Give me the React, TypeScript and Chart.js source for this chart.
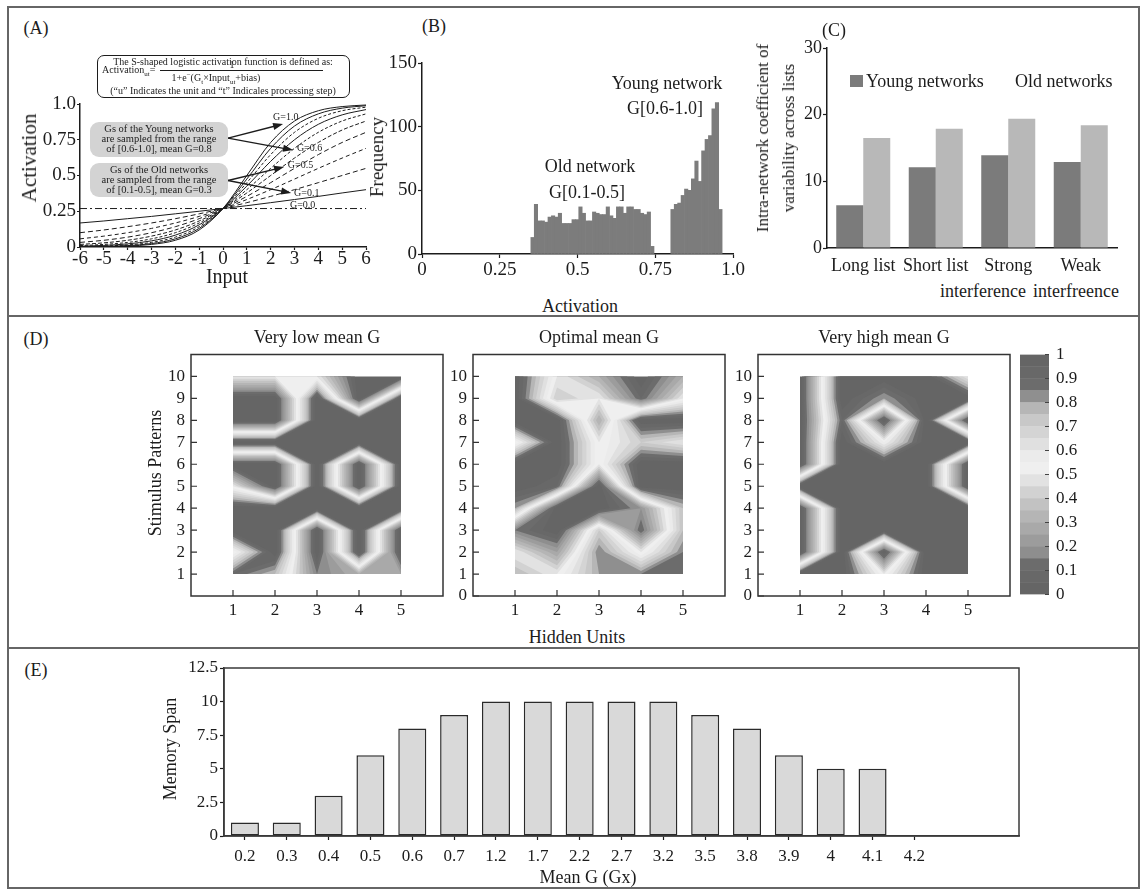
import React, { useEffect, useRef } from 'react';
import { Chart, registerables } from 'chart.js';

Chart.register(...registerables);

const FONT = '"Liberation Serif", "Times New Roman", Times, serif';
const INK = '#1c1c1c';

// ---------------- Panel A : logistic activation curves ----------------
const aInputs = [-6, -5, -4, -3, -2, -1, 0, 1, 2, 3, 4, 5, 6];
const aGainNames = ['G=0.0', 'G=0.1', 'G=0.2', 'G=0.3', 'G=0.4', 'G=0.5', 'G=0.6', 'G=0.7', 'G=0.8', 'G=0.9', 'G=1.0'];
const aG00 = [0.269, 0.269, 0.269, 0.269, 0.269, 0.269, 0.269, 0.269, 0.269, 0.269, 0.269, 0.269, 0.269];
const aG01 = [0.168, 0.182, 0.198, 0.214, 0.232, 0.25, 0.269, 0.289, 0.31, 0.332, 0.354, 0.378, 0.401];
const aG02 = [0.1, 0.119, 0.142, 0.168, 0.198, 0.232, 0.269, 0.31, 0.354, 0.401, 0.45, 0.5, 0.55];
const aG03 = [0.057, 0.076, 0.1, 0.13, 0.168, 0.214, 0.269, 0.332, 0.401, 0.475, 0.55, 0.622, 0.69];
const aG04 = [0.032, 0.047, 0.069, 0.1, 0.142, 0.198, 0.269, 0.354, 0.45, 0.55, 0.646, 0.731, 0.802];
const aG05 = [0.018, 0.029, 0.047, 0.076, 0.119, 0.182, 0.269, 0.378, 0.5, 0.622, 0.731, 0.818, 0.881];
const aG06 = [0.01, 0.018, 0.032, 0.057, 0.1, 0.168, 0.269, 0.401, 0.55, 0.69, 0.802, 0.881, 0.931];
const aG07 = [0.006, 0.011, 0.022, 0.043, 0.083, 0.155, 0.269, 0.426, 0.599, 0.75, 0.858, 0.924, 0.961];
const aG08 = [0.003, 0.007, 0.015, 0.032, 0.069, 0.142, 0.269, 0.45, 0.646, 0.802, 0.9, 0.953, 0.978];
const aG09 = [0.002, 0.004, 0.01, 0.024, 0.057, 0.13, 0.269, 0.475, 0.69, 0.846, 0.931, 0.971, 0.988];
const aG10 = [0.001, 0.002, 0.007, 0.018, 0.047, 0.119, 0.269, 0.5, 0.731, 0.881, 0.953, 0.982, 0.993];
const aYTickLabels = ['0', '0.25', '0.5', '0.75', '1.0'];
const aCurveLabels = [
  { text: 'G=1.0', x: 2.1, y: 0.905 },
  { text: 'G=0.6', x: 3.1, y: 0.69 },
  { text: 'G=0.5', x: 2.72, y: 0.573 },
  { text: 'G=0.1', x: 2.98, y: 0.378 },
  { text: 'G=0.0', x: 2.81, y: 0.294 },
];
const aArrows = [
  { from: [0.21, 0.762], to: [2.52, 0.86] },
  { from: [0.21, 0.762], to: [2.94, 0.678] },
  { from: [0.21, 0.465], to: [2.56, 0.56] },
  { from: [0.21, 0.465], to: [2.86, 0.378] },
];

// ---------------- Panel B : activation histogram ----------------
const bBinWidth = 0.011;
const bOldStart = 0.35;
const bOldFreq = [13, 39, 26, 26, 25, 29, 30, 29, 32, 24, 24, 24, 27, 27, 37, 32, 26, 26, 33, 32, 31, 31, 37, 30, 28, 37, 37, 32, 37, 37, 35, 35, 32, 31, 33, 6];
const bYoungStart = 0.8;
const bYoungFreq = [35, 39, 40, 46, 51, 50, 59, 73, 57, 81, 90, 93, 114, 119, 35];
const bXTickLabels = ['0', '0.25', '0.5', '0.75', '1.0'];

// ---------------- Panel C : coefficient of variability ----------------
const cCategories = ['Long list', 'Short list', 'Strong', 'Weak'];
const cYoung = [6.4, 12.1, 13.9, 12.9];
const cOld = [16.5, 17.9, 19.4, 18.4];

// ---------------- Panel D : contour maps (rows: pattern 10 -> 1, cols: unit 1 -> 5) ----------------
const dUnits = [1, 2, 3, 4, 5];
const dPatternTicks = [0, 1, 2, 3, 4, 5, 6, 7, 8, 9, 10];
const dPatternTicksLow = [1, 2, 3, 4, 5, 6, 7, 8, 9, 10];
const dLowGrid = [
  [0.5, 0.5, 0.5, 0, 0],
  [0, 0, 1, 0, 1],
  [0, 0, 1, 1, 1],
  [1, 1, 1, 1, 1],
  [0, 0, 1, 0, 1],
  [0.5, 0, 1, 0, 1],
  [1, 1, 1, 1, 1],
  [1, 1, 0, 1, 0],
  [0.5, 1, 0, 1, 0],
  [0.9, 0.75, 0.15, 0.3, 0.25],
];
const dOptimalGrid = [
  [1, 0.5, 0.3, 0, 0.3],
  [1, 0.4, 0.5, 0.1, 0.5],
  [1, 1, 0.3, 1, 1],
  [0.5, 1, 0.5, 0.7, 0.6],
  [1, 1, 0.5, 1, 1],
  [1, 0.9, 0, 1, 1],
  [0.8, 0, 0, 0.2, 0.75],
  [0.15, 0, 0.7, 0.1, 0.75],
  [0.5, 0.25, 0.85, 0.5, 0.85],
  [0.35, 0.5, 0.8, 0.85, 0.85],
];
const dHighGrid = [
  [0, 1, 1, 1, 0.6],
  [0, 1, 0.8, 1, 1],
  [0, 0.9, 0, 1, 0],
  [0, 1, 0.55, 1, 1],
  [0, 1, 1, 1, 0],
  [1, 1, 1, 1, 0],
  [0, 1, 1, 1, 1],
  [0, 1, 1, 1, 1],
  [0, 1, 0, 1, 1],
  [1, 1, 0.5, 1, 1],
];
const dLevelStep = 0.05;
const dColorbarLabels = ['0', '0.1', '0.2', '0.3', '0.4', '0.5', '0.6', '0.7', '0.8', '0.9', '1'];
const dBandColors = [
  '#656565', '#686868', '#6c6c6c', '#8e8e8e', '#9c9c9c', '#a9a9a9', '#b5b5b5', '#c2c2c2', '#d2d2d2', '#e2e2e2',
  '#efefef', '#ebebeb', '#e0e0e0', '#d4d4d4', '#c8c8c8', '#b6b6b6', '#8f8f8f', '#6c6c6c', '#686868', '#656565',
];

// ---------------- Panel E : memory span ----------------
const eMeanG = ['0.2', '0.3', '0.4', '0.5', '0.6', '0.7', '1.2', '1.7', '2.2', '2.7', '3.2', '3.5', '3.8', '3.9', '4', '4.1', '4.2'];
const eSpan = [1, 1, 3, 6, 8, 9, 10, 10, 10, 10, 10, 9, 8, 6, 5, 5, null];

// ---------------- helpers ----------------
const tickFont = (size: number) => ({ family: FONT, size, lineHeight: 1 });
const fixSize = (px: number) => (s: any) => {
  if (s.isHorizontal()) s.height = px;
  else s.width = px;
};
const baseOptions = (padding: any) => ({
  responsive: false,
  animation: false,
  events: [],
  layout: { padding },
  plugins: { legend: { display: false }, tooltip: { enabled: false } },
});

function ChartCanvas({ x, y, w, h, config }: { x: number; y: number; w: number; h: number; config: () => any }) {
  const ref = useRef<HTMLCanvasElement>(null);
  useEffect(() => {
    const chart = new Chart(ref.current as HTMLCanvasElement, config());
    return () => chart.destroy();
  }, []);
  return <canvas ref={ref} width={w} height={h} style={{ position: 'absolute', left: x, top: y, width: w, height: h }} />;
}

function Txt(props: { x: number; y: number; size?: number; rotate?: boolean; left?: boolean; lh?: number; children: React.ReactNode }) {
  const { x, y, size = 18, rotate = false, left = false, lh = 1.15, children } = props;
  let transform = left ? 'translate(0,-50%)' : 'translate(-50%,-50%)';
  if (rotate) transform += ' rotate(-90deg)';
  return (
    <div
      style={{
        position: 'absolute', left: x, top: y, transform, fontFamily: FONT, fontSize: size, lineHeight: lh,
        color: INK, whiteSpace: 'nowrap', textAlign: 'center',
      }}
    >
      {children}
    </div>
  );
}

// ---------------- plugins ----------------
const annotA = {
  id: 'annotA',
  afterDatasetsDraw(chart: any) {
    const { ctx, scales } = chart;
    const xs = scales.x, ys = scales.y;
    ctx.save();
    ctx.strokeStyle = INK;
    ctx.fillStyle = INK;
    ctx.lineWidth = 1.3;
    aArrows.forEach((a) => {
      const x0 = xs.getPixelForValue(a.from[0]), y0 = ys.getPixelForValue(a.from[1]);
      const x1 = xs.getPixelForValue(a.to[0]), y1 = ys.getPixelForValue(a.to[1]);
      const ang = Math.atan2(y1 - y0, x1 - x0);
      const c = Math.cos(ang), s = Math.sin(ang);
      ctx.beginPath();
      ctx.moveTo(x0, y0);
      ctx.lineTo(x1 - 7 * c, y1 - 7 * s);
      ctx.stroke();
      ctx.beginPath();
      ctx.moveTo(x1, y1);
      ctx.lineTo(x1 - 10 * c + 3.6 * s, y1 - 10 * s - 3.6 * c);
      ctx.lineTo(x1 - 10 * c - 3.6 * s, y1 - 10 * s + 3.6 * c);
      ctx.closePath();
      ctx.fill();
    });
    ctx.font = `10px ${FONT}`;
    ctx.textBaseline = 'middle';
    ctx.textAlign = 'left';
    aCurveLabels.forEach((l) => ctx.fillText(l.text, xs.getPixelForValue(l.x), ys.getPixelForValue(l.y)));
    ctx.restore();
  },
};

function contourPlugin(grid: number[][]) {
  const val = (u: number, p: number) => grid[10 - p][u - 1];
  return {
    id: 'contour',
    beforeDatasetsDraw(chart: any) {
      const { ctx, scales } = chart;
      const xs = scales.x, ys = scales.y;
      ctx.save();
      for (let k = 0; k < dBandColors.length; k++) {
        const level = k * dLevelStep;
        ctx.beginPath();
        for (let u = 1; u < 5; u++) {
          for (let p = 1; p < 10; p++) {
            const corners = [[u, p], [u + 1, p], [u + 1, p + 1], [u, p + 1]].map(([a, b]) => ({
              px: xs.getPixelForValue(a), py: ys.getPixelForValue(b), v: val(a, b),
            }));
            const poly: number[][] = [];
            for (let m = 0; m < 4; m++) {
              const A = corners[m], B = corners[(m + 1) % 4];
              const inA = A.v >= level - 1e-9, inB = B.v >= level - 1e-9;
              if (inA) poly.push([A.px, A.py]);
              if (inA !== inB) {
                const t = (level - A.v) / (B.v - A.v);
                poly.push([A.px + t * (B.px - A.px), A.py + t * (B.py - A.py)]);
              }
            }
            if (poly.length >= 3) {
              ctx.moveTo(poly[0][0], poly[0][1]);
              for (let q = 1; q < poly.length; q++) ctx.lineTo(poly[q][0], poly[q][1]);
              ctx.closePath();
            }
          }
        }
        ctx.fillStyle = dBandColors[k];
        ctx.fill();
      }
      ctx.restore();
    },
  };
}

function frameD(yTicks: number[]) {
  return {
    id: 'frameD',
    afterDraw(chart: any) {
      const { ctx, chartArea: a, scales } = chart;
      ctx.save();
      ctx.strokeStyle = '#333';
      ctx.lineWidth = 1.5;
      ctx.strokeRect(a.left, a.top, a.right - a.left, a.bottom - a.top);
      ctx.lineWidth = 1.2;
      ctx.beginPath();
      dUnits.forEach((u) => {
        const px = scales.x.getPixelForValue(u);
        ctx.moveTo(px, a.bottom);
        ctx.lineTo(px, a.bottom - 6);
      });
      yTicks.forEach((p) => {
        const py = scales.y.getPixelForValue(p);
        ctx.moveTo(a.left, py);
        ctx.lineTo(a.left + 6, py);
      });
      ctx.stroke();
      ctx.restore();
    },
  };
}

const colorbarTicks = {
  id: 'cbTicks',
  afterDraw(chart: any) {
    const { ctx, chartArea: a, scales } = chart;
    ctx.save();
    ctx.strokeStyle = '#444';
    ctx.lineWidth = 1;
    ctx.beginPath();
    dColorbarLabels.forEach((_, i) => {
      const py = scales.y.getPixelForValue(i / 10);
      ctx.moveTo(a.right, py);
      ctx.lineTo(a.right - 4, py);
    });
    ctx.stroke();
    ctx.restore();
  },
};

const frameE = {
  id: 'frameE',
  afterDraw(chart: any) {
    const { ctx, chartArea: a } = chart;
    ctx.save();
    ctx.strokeStyle = '#3a3a3a';
    ctx.lineWidth = 1.5;
    ctx.strokeRect(a.left, a.top, a.right - a.left, a.bottom - a.top);
    ctx.restore();
  },
};

// ---------------- chart configs ----------------
const aSeries = [aG00, aG01, aG02, aG03, aG04, aG05, aG06, aG07, aG08, aG09, aG10];
const aDashes = [[7, 3, 2, 3], [], [5, 3], [4, 3], [5, 3], [4, 2], [3, 2], [], [3, 2], [], []];

const axisCommon = (size: number, pad: number, tick: number) => ({
  ticks: { font: tickFont(size), color: INK, padding: pad, autoSkip: false, maxRotation: 0 },
  grid: { drawOnChartArea: false, drawTicks: tick > 0, tickLength: tick, tickColor: INK, tickWidth: 1.2 },
  border: { color: INK, width: 1.5 },
});

function configA() {
  const xc = axisCommon(19, 0, 3), yc = axisCommon(19, 1, 3);
  return {
    type: 'line',
    data: {
      datasets: aSeries.map((vals, k) => ({
        label: aGainNames[k],
        data: aInputs.map((x, i) => ({ x, y: vals[i] })),
        borderColor: INK,
        borderWidth: 1,
        borderDash: aDashes[k],
        pointRadius: 0,
        fill: false,
        cubicInterpolationMode: 'monotone',
      })),
    },
    options: {
      ...baseOptions({ top: 12, right: 14, bottom: 0, left: 0 }),
      scales: {
        x: { type: 'linear', min: -6, max: 6, afterFit: fixSize(43), ...xc, ticks: { ...xc.ticks, stepSize: 1 } },
        y: {
          type: 'linear', min: 0, max: 1, afterFit: fixSize(60), ...yc,
          ticks: { ...yc.ticks, stepSize: 0.25, callback: (_v: any, i: number) => aYTickLabels[i] },
        },
      },
    },
    plugins: [annotA],
  };
}

function configB() {
  const xc = axisCommon(19, 3, 4), yc = axisCommon(19, 1, 4);
  const data = [
    ...bOldFreq.map((f, k) => ({ x: bOldStart + (k + 0.5) * bBinWidth, y: f })),
    ...bYoungFreq.map((f, k) => ({ x: bYoungStart + (k + 0.5) * bBinWidth, y: f })),
  ];
  return {
    type: 'bar',
    data: {
      datasets: [{ label: 'Frequency', data, backgroundColor: '#7c7c7c', borderWidth: 0, barPercentage: 1, categoryPercentage: 1 }],
    },
    options: {
      ...baseOptions({ top: 12, right: 17, bottom: 0, left: 0 }),
      scales: {
        x: {
          type: 'linear', min: 0, max: 1, offset: false, afterFit: fixSize(30), ...xc,
          grid: { ...xc.grid, offset: false },
          ticks: { ...xc.ticks, stepSize: 0.25, callback: (_v: any, i: number) => bXTickLabels[i] },
        },
        y: { type: 'linear', min: 0, max: 150, afterFit: fixSize(40), ...yc, ticks: { ...yc.ticks, stepSize: 50 } },
      },
    },
  };
}

function configC() {
  const xc = axisCommon(18, 9, 0), yc = axisCommon(18, 1, 4);
  return {
    type: 'bar',
    data: {
      labels: cCategories,
      datasets: [
        { label: 'Young networks', data: cYoung, backgroundColor: '#7b7b7b', borderWidth: 0, barPercentage: 1, categoryPercentage: 0.745 },
        { label: 'Old networks', data: cOld, backgroundColor: '#b8b8b8', borderWidth: 0, barPercentage: 1, categoryPercentage: 0.745 },
      ],
    },
    options: {
      ...baseOptions({ top: 12, right: 12, bottom: 0, left: 0 }),
      scales: {
        x: { afterFit: fixSize(30), ...xc },
        y: { min: 0, max: 30, afterFit: fixSize(37), ...yc, ticks: { ...yc.ticks, stepSize: 10 } },
      },
    },
  };
}

function configD(grid: number[][], yTicks: number[], yAxisW: number, padRight: number) {
  const tk = { font: tickFont(17), color: INK, padding: 6, autoSkip: false, maxRotation: 0 };
  return () => ({
    type: 'scatter',
    data: { datasets: [{ data: [], pointRadius: 0 }] },
    options: {
      ...baseOptions({ top: 12, right: padRight, bottom: 0, left: 0 }),
      scales: {
        x: {
          type: 'linear', min: 0, max: 6, afterFit: fixSize(29),
          afterBuildTicks: (s: any) => { s.ticks = dUnits.map((v) => ({ value: v })); },
          ticks: tk, grid: { display: false, drawTicks: false }, border: { display: false },
        },
        y: {
          type: 'linear', min: 0, max: 11, afterFit: fixSize(yAxisW),
          afterBuildTicks: (s: any) => { s.ticks = yTicks.map((v) => ({ value: v })); },
          ticks: tk, grid: { display: false, drawTicks: false }, border: { display: false },
        },
      },
    },
    plugins: [contourPlugin(grid), frameD(yTicks)],
  });
}

function configColorbar() {
  return {
    type: 'bar',
    data: {
      labels: [''],
      datasets: dBandColors.map((c, k) => ({
        label: 'band ' + k,
        data: [dLevelStep],
        backgroundColor: c,
        borderWidth: 0,
        barPercentage: 1,
        categoryPercentage: 1,
        stack: 'cb',
      })),
    },
    options: {
      ...baseOptions({ top: 12, right: 0, bottom: 14, left: 4 }),
      scales: {
        x: { display: false, stacked: true },
        y: {
          stacked: true, position: 'right', min: 0, max: 1, afterFit: fixSize(60),
          ticks: { font: tickFont(17), color: INK, padding: 7, stepSize: 0.1, callback: (_v: any, i: number) => dColorbarLabels[i] },
          grid: { display: false, drawTicks: false }, border: { display: false },
        },
      },
    },
    plugins: [colorbarTicks],
  };
}

function configE() {
  const xc = axisCommon(17, 8, 4), yc = axisCommon(17, 2, 4);
  return {
    type: 'bar',
    data: {
      labels: [...eMeanG, '', ''],
      datasets: [{
        label: 'Memory Span',
        data: [...eSpan, null, null],
        backgroundColor: '#d9d9d9',
        borderColor: '#2a2a2a',
        borderWidth: 1.5,
        borderSkipped: false,
        barPercentage: 0.67,
        categoryPercentage: 1,
      }],
    },
    options: {
      ...baseOptions({ top: 12, right: 12, bottom: 0, left: 0 }),
      scales: {
        x: {
          afterFit: fixSize(34), ...xc,
          grid: { ...xc.grid, offset: false, tickColor: (c: any) => (c.index < eMeanG.length ? INK : 'rgba(0,0,0,0)') },
          border: { color: '#3a3a3a', width: 1.5 },
        },
        y: {
          min: 0, max: 12.5, afterFit: fixSize(54), ...yc, ticks: { ...yc.ticks, stepSize: 2.5 },
          border: { color: '#3a3a3a', width: 1.5 },
        },
      },
    },
    plugins: [frameE],
  };
}

const configD1 = configD(dLowGrid, dPatternTicksLow, 41, 3);
const configD2 = configD(dOptimalGrid, dPatternTicks, 27, 4);
const configD3 = configD(dHighGrid, dPatternTicks, 28, 4);

const sub = { fontSize: 7, lineHeight: 0, verticalAlign: 'sub' } as React.CSSProperties;
const sup = { fontSize: 7, lineHeight: 0, verticalAlign: 'super' } as React.CSSProperties;

export default function App() {
  return (
    <div style={{ position: 'absolute', left: 0, top: 0, width: 1142, height: 891, background: '#fff', overflow: 'hidden' }}>
      {/* frame and separators */}
      <div style={{ position: 'absolute', left: 7, top: 6, width: 1133, height: 883, border: '2px solid #666', boxSizing: 'border-box' }} />
      <div style={{ position: 'absolute', left: 7, top: 315, width: 1133, height: 2, background: '#666' }} />
      <div style={{ position: 'absolute', left: 7, top: 647, width: 1133, height: 2, background: '#666' }} />

      {/* charts */}
      <ChartCanvas x={20} y={92} w={360} h={198} config={configA} />
      <ChartCanvas x={382} y={51} w={368} h={233} config={configB} />
      <ChartCanvas x={790} y={36} w={339} h={242} config={configC} />
      <ChartCanvas x={150} y={340} w={296} h={285} config={configD1} />
      <ChartCanvas x={446} y={340} w={283} h={285} config={configD2} />
      <ChartCanvas x={730} y={340} w={284} h={285} config={configD3} />
      <ChartCanvas x={1016} y={339} w={93} h={271} config={configColorbar} />
      <ChartCanvas x={170} y={656} w={861} h={214} config={configE} />

      {/* panel letters */}
      <Txt x={36} y={28}>(A)</Txt>
      <Txt x={434} y={26}>(B)</Txt>
      <Txt x={834} y={30}>(C)</Txt>
      <Txt x={36} y={339}>(D)</Txt>
      <Txt x={36} y={670}>(E)</Txt>

      {/* Panel A texts */}
      <Txt x={29} y={158} size={21} rotate>Activation</Txt>
      <Txt x={227} y={276} size={20}>Input</Txt>
      <div style={{ position: 'absolute', left: 97, top: 55, width: 253, height: 43, border: `1.5px solid ${INK}`, borderRadius: 7, boxSizing: 'border-box' }} />
      <Txt x={223} y={62} size={10}>The S-shaped logistic activation function is defined as:</Txt>
      <Txt x={102} y={70} size={10} left>Activation<span style={sub}>ut</span>=</Txt>
      <Txt x={232} y={65} size={10}>1</Txt>
      <div style={{ position: 'absolute', left: 160, top: 70, width: 163, height: 0, borderTop: `1px solid ${INK}` }} />
      <Txt x={216} y={77.5} size={10}>1+e<span style={sup}>−</span>(G<span style={sub}>t</span>×Input<span style={sub}>ut</span>+bias)</Txt>
      <Txt x={223} y={90.5} size={10}>(“u” Indicates the unit and “t” Indicales processing step)</Txt>
      <div style={{ position: 'absolute', left: 90, top: 122, width: 138, height: 35, background: '#d3d3d3', borderRadius: 9 }} />
      <Txt x={159} y={128.5} size={10.5} lh={1}>Gs of the Young networks</Txt>
      <Txt x={159} y={138.5} size={10.5} lh={1}>are sampled from the range</Txt>
      <Txt x={159} y={148.5} size={10.5} lh={1}>of [0.6-1.0], mean G=0.8</Txt>
      <div style={{ position: 'absolute', left: 90, top: 163, width: 138, height: 34, background: '#d3d3d3', borderRadius: 9 }} />
      <Txt x={159} y={169.5} size={10.5} lh={1}>Gs of the Old networks</Txt>
      <Txt x={159} y={179.5} size={10.5} lh={1}>are sampled from the range</Txt>
      <Txt x={159} y={189.5} size={10.5} lh={1}>of [0.1-0.5], mean G=0.3</Txt>

      {/* Panel B texts */}
      <Txt x={377} y={157} size={19} rotate>Frequency</Txt>
      <Txt x={580} y={306} size={18}>Activation</Txt>
      <Txt x={667} y={83} size={18}>Young network</Txt>
      <Txt x={665} y={108} size={18}>G[0.6-1.0]</Txt>
      <Txt x={590} y={166} size={18}>Old network</Txt>
      <Txt x={587} y={192} size={18}>G[0.1-0.5]</Txt>

      {/* Panel C texts */}
      <div
        style={{
          position: 'absolute', left: 776, top: 138, transform: 'translate(-50%,-50%) rotate(-90deg)', fontFamily: FONT,
          fontSize: 17, lineHeight: '26px', color: INK, whiteSpace: 'nowrap', textAlign: 'center',
        }}
      >
        <div>Intra-network coefficient of</div>
        <div>variability across lists</div>
      </div>
      <div style={{ position: 'absolute', left: 850, top: 75, width: 13, height: 12, background: '#7b7b7b' }} />
      <Txt x={866} y={81} left>Young networks</Txt>
      <Txt x={1015} y={81} left>Old networks</Txt>
      <Txt x={940} y={291} left>interference</Txt>
      <Txt x={1033} y={291} left>interfreence</Txt>

      {/* Panel D texts */}
      <Txt x={317} y={337}>Very low mean G</Txt>
      <Txt x={599} y={337}>Optimal mean G</Txt>
      <Txt x={884} y={337}>Very high mean G</Txt>
      <Txt x={155} y={473} rotate>Stimulus Patterns</Txt>
      <Txt x={577} y={637}>Hidden Units</Txt>

      {/* Panel E texts */}
      <Txt x={170} y={749} rotate>Memory Span</Txt>
      <Txt x={588} y={877}>Mean G (Gx)</Txt>
    </div>
  );
}
